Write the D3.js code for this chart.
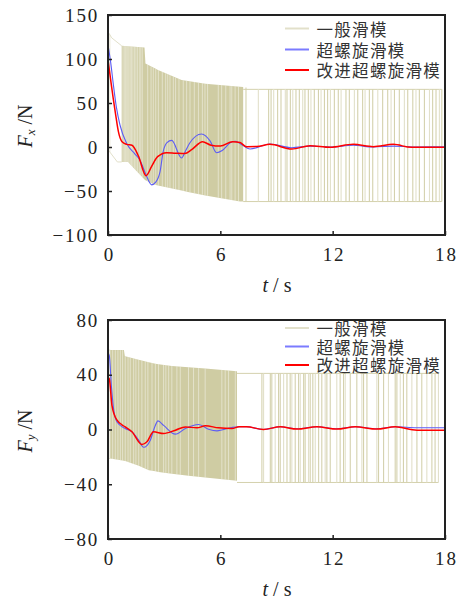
<!DOCTYPE html>
<html><head><meta charset="utf-8">
<script src="https://cdn.jsdelivr.net/npm/d3@7"></script>
<style>
html,body{margin:0;padding:0;background:#fff;}
svg{display:block;}
</style></head>
<body>
<svg id="chart" width="462" height="601"></svg>
<script>
// ---------------- DATA ----------------
const seriesNames = ["一般滑模", "超螺旋滑模", "改进超螺旋滑模"];
const xTicks = [0, 6, 12, 18];
const yTicksFx = [-100, -50, 0, 50, 100, 150];
const yTicksFy = [-80, -40, 0, 40, 80];

// F_x : conventional sliding mode (chattering) envelopes [t, value]
const fxUpper = [[0,131],[0.2,124],[0.73,115],[1.95,113],[2.0,95],[2.67,87.5],[3.93,76],[5.2,72],[7.05,68.5],[8,66],[18,65.5]];
const fxLower = [[0,-3],[0.5,-17],[1.07,-17],[1.98,-37.5],[2.5,-43],[4.27,-51],[5.2,-55],[7.05,-62],[18,-62]];
const fxDense = [0.73, 7.22];
const fxGaps = [0.8,0.87,0.93,1.0,1.06,1.12,1.19,1.26,1.33,1.41,1.49,1.57,1.67,1.75,1.83,2.12,2.3,2.42,2.55,2.69,2.9,3.08,3.19,3.31,3.49,3.61,3.79,4.02,4.2,4.38,4.61,4.83,5.04,5.18,5.32,5.89,6.07,6.29,6.52,6.61,6.79,6.97];
const fxSwitch = [7.37,8.03,8.58,8.71,8.85,9.06,9.24,9.47,9.56,9.74,9.87,10.04,10.22,10.40,10.52,10.70,10.84,11.02,11.24,11.38,11.56,11.73,11.88,12.09,12.30,12.45,12.71,12.89,13.16,13.34,13.60,13.73,13.96,14.14,14.41,14.67,14.94,15.12,15.30,15.56,15.83,16.01,16.28,16.45,16.63,16.90,17.17,17.34,17.52,17.70,17.83];
// F_x : super-twisting (blue) and improved super-twisting (red)
const fxBlue = [[0,116],[0.15,95],[0.28,72],[0.45,45],[0.64,25],[1.0,4],[1.44,-8],[1.71,-15],[2.0,-30],[2.33,-43],[2.55,-40],[2.78,-28],[2.95,-5],[3.15,5],[3.4,7.5],[3.93,-12.5],[4.15,-4],[4.35,4],[5.0,14.8],[5.45,7],[5.8,-6.5],[6.1,-4],[6.55,5],[6.8,6.5],[7.05,4],[7.59,-2.3],[8.65,3.4],[9.81,-0.8],[10.79,1],[11.86,0],[13.1,2],[14.17,0],[15.24,1],[16.3,0],[18,0.2]];
const fxRed = [[0,99],[0.12,80],[0.28,55],[0.4,38],[0.55,18],[0.75,6],[1.0,3],[1.28,2],[1.62,-10],[2.03,-32.6],[2.33,-22],[2.65,-11],[3.13,-6.4],[3.6,-7],[4.1,-7.5],[4.47,-3],[5.05,6],[5.5,2],[6.0,1],[6.65,6],[7.05,5],[7.4,0.4],[7.94,0.5],[8.65,3],[9.81,-2.3],[10.79,1.5],[11.86,-0.4],[13.1,3],[14.17,0.4],[15.24,3],[16.2,-0.4],[18,-0.4]];

// F_y : conventional sliding mode envelopes
const fyUpper = [[0,58],[0.85,58],[0.9,53.5],[2.53,48],[3.41,46.4],[5.19,44.5],[6.97,42.5],[8.2,41],[18,41]];
const fyLower = [[0,-21],[0.92,-23],[1.64,-26.5],[2.18,-29.7],[2.7,-31],[4.3,-33.8],[6.97,-37.5],[8.2,-38.7],[18,-38.7]];
const fyDense = [0.12, 6.89];
const fyGaps = [0.25,0.39,0.53,0.66,0.78,0.92,1.07,1.19,1.37,1.49,1.64,1.81,1.99,2.13,2.35,2.53,2.70,2.97,3.09,3.24,3.41,3.68,3.86,4.3,4.57,4.84,5.19,6.08,6.26,6.44,6.8];
const fySwitch = [8.22,8.31,8.67,8.75,8.93,9.11,9.2,9.38,9.56,9.73,9.82,10.0,10.18,10.27,10.45,10.53,10.71,10.8,10.94,11.07,11.25,11.42,11.6,11.69,11.87,12.22,12.4,12.58,12.67,12.94,13.29,13.56,13.65,13.83,14.36,14.45,14.72,14.98,15.34,15.43,15.61,15.78,15.96,16.23,16.5,16.76,17.03,17.3,17.47,17.65];
const fyBlue = [[0,56],[0.07,54],[0.18,32],[0.3,15],[0.48,5.5],[0.92,0.7],[1.28,-1.7],[1.64,-7.8],[1.9,-13],[2.26,-7.8],[2.5,2],[2.67,6.3],[2.97,3],[3.6,-3.4],[4.13,0.7],[4.84,3.6],[5.37,0.2],[5.82,-1],[6.62,1.5],[7.0,2],[7.4,2],[8.3,0],[9.2,2],[10.09,0.5],[11.16,2],[12.23,0.5],[13.2,2],[14.36,0.5],[15.34,2],[16.5,1.3],[18,1.3]];
const fyRed = [[0,38],[0.07,37],[0.21,17.7],[0.48,6.8],[0.92,1.9],[1.28,-1.7],[1.81,-11],[2.08,-9],[2.43,-1.7],[2.97,-2.9],[3.6,-0.5],[4.13,1.9],[4.75,1.2],[5.2,2.7],[5.9,1.2],[6.62,0.7],[7.0,2],[7.4,2],[8.3,0],[9.2,2],[10.09,0.3],[11.16,2],[12.23,0.3],[13.2,2],[14.36,0.3],[15.34,2],[16.5,-0.5],[18,-0.5]];

// ---------------- DRAW ----------------
const OLIVE = "#cfcca3", OLIVE_S = "#d4d1ad", OLIVE_L = "#e2e0ca", BLUE = "#5c5cf5", RED = "#ff0000";
const svg = d3.select("#chart");

const panels = [
  {left:108, right:445, top:15, bottom:235, dom:[-100,150], yt:yTicksFx, sub:"x",
   up:fxUpper, lo:fxLower, dense:fxDense, gaps:fxGaps, sw:fxSwitch, blue:fxBlue, red:fxRed,
   legY:[30,51,71.5], titleY:126},
  {left:108, right:445, top:320, bottom:539, dom:[-80,80], yt:yTicksFy, sub:"y",
   up:fyUpper, lo:fyLower, dense:fyDense, gaps:fyGaps, sw:fySwitch, blue:fyBlue, red:fyRed,
   legY:[329.5,348,366.5], titleY:431}
];

panels.forEach((p, i) => {
  const x = d3.scaleLinear().domain([0,18]).range([p.left, p.right]);
  const y = d3.scaleLinear().domain(p.dom).range([p.bottom, p.top]);
  const upS = d3.scaleLinear().domain(p.up.map(d=>d[0])).range(p.up.map(d=>d[1]));
  const loS = d3.scaleLinear().domain(p.lo.map(d=>d[0])).range(p.lo.map(d=>d[1]));

  const clipId = "clip" + i;
  svg.append("clipPath").attr("id", clipId).append("rect")
    .attr("x", p.left).attr("y", p.top).attr("width", p.right - p.left).attr("height", p.bottom - p.top);
  const g = svg.append("g").attr("clip-path", `url(#${clipId})`);

  // faint envelope lines (before dense start)
  const env = d3.line().x(d=>x(d[0])).y(d=>y(d[1]));
  const preU = p.up.filter(d=>d[0] < p.dense[0]).concat([[p.dense[0], upS(p.dense[0])]]);
  const preL = p.lo.filter(d=>d[0] < p.dense[0]).concat([[p.dense[0], loS(p.dense[0])]]);
  g.append("path").attr("d", env(preU)).attr("fill","none").attr("stroke",OLIVE_L).attr("stroke-width",1);
  g.append("path").attr("d", env(preL)).attr("fill","none").attr("stroke",OLIVE_L).attr("stroke-width",1);
  g.append("line").attr("x1", x(0.1)).attr("x2", x(0.1)).attr("y1", y(upS(0.1))).attr("y2", y(loS(0.1)))
    .attr("stroke", OLIVE_L).attr("stroke-width", 0.8);

  // dense chattering band
  const ts = Array.from(new Set([p.dense[0], ...p.up.map(d=>d[0]), ...p.lo.map(d=>d[0]), p.dense[1]]))
    .filter(t => t >= p.dense[0] && t <= p.dense[1]).sort((a,b)=>a-b);
  const area = d3.area().x(t=>x(t)).y0(t=>y(loS(t))).y1(t=>y(upS(t)));
  g.append("path").attr("d", area(ts)).attr("fill", OLIVE);

  // white gaps in the dense band
  g.selectAll(null).data(p.gaps).join("line")
    .attr("x1", t=>x(t)).attr("x2", t=>x(t))
    .attr("y1", t=>y(upS(t))).attr("y2", t=>y(loS(t)))
    .attr("stroke", "#fff").attr("stroke-opacity", 0.55).attr("stroke-width", 0.8);

  // sparse switching lines and held levels
  const last = p.sw[p.sw.length-1];
  g.append("line").attr("x1", x(p.dense[1])).attr("x2", x(last))
    .attr("y1", y(upS(last))).attr("y2", y(upS(last))).attr("stroke", OLIVE_S).attr("stroke-width", 1);
  g.append("line").attr("x1", x(p.dense[1])).attr("x2", x(last))
    .attr("y1", y(loS(last))).attr("y2", y(loS(last))).attr("stroke", OLIVE_S).attr("stroke-width", 1);
  g.selectAll(null).data(p.sw).join("line")
    .attr("x1", t=>x(t)).attr("x2", t=>x(t))
    .attr("y1", t=>y(upS(t))).attr("y2", t=>y(loS(t)))
    .attr("stroke", (t,k)=> k%3===1 ? OLIVE_L : OLIVE_S).attr("stroke-width", 1.1);

  // smooth curves
  const line = d3.line().x(d=>x(d[0])).y(d=>y(d[1])).curve(d3.curveMonotoneX);
  g.append("path").attr("d", line(p.blue)).attr("fill","none").attr("stroke", BLUE).attr("stroke-width", 1.1);
  g.append("path").attr("d", line(p.red)).attr("fill","none").attr("stroke", RED).attr("stroke-width", 1.5);

  // axes (inward ticks)
  const fontTick = "Liberation Serif";
  const xAxis = svg.append("g").attr("transform", `translate(0,${p.bottom})`)
    .call(d3.axisBottom(x).tickValues(xTicks).tickSize(-4).tickPadding(13).tickFormat(d3.format("d")));
  const yAxis = svg.append("g").attr("transform", `translate(${p.left},0)`)
    .call(d3.axisLeft(y).tickValues(p.yt).tickSize(-4).tickPadding(9).tickFormat(d3.format("d")));
  [xAxis, yAxis].forEach(a => {
    a.select(".domain").remove();
    a.selectAll("line").attr("stroke", "#222").attr("stroke-width", 1.5);
    a.selectAll("text").attr("font-family", fontTick).attr("font-size", 19)
      .attr("letter-spacing", 1.8).attr("fill", "#222");
  });
  xAxis.selectAll("text").attr("dx", 0.9);

  // frame
  svg.append("rect").attr("x", p.left).attr("y", p.top)
    .attr("width", p.right - p.left).attr("height", p.bottom - p.top)
    .attr("fill", "none").attr("stroke", "#222").attr("stroke-width", 2);

  // x title
  const xt = svg.append("text").attr("x", 277).attr("y", p.bottom + 57)
    .attr("text-anchor", "middle").attr("font-family", fontTick).attr("font-size", 20).attr("fill", "#222");
  xt.append("tspan").attr("font-style", "italic").text("t");
  xt.append("tspan").text(" / s");

  // y title
  const yt = svg.append("text").attr("transform", `translate(32,${p.titleY}) rotate(-90)`)
    .attr("text-anchor", "middle").attr("font-family", fontTick).attr("font-size", 20).attr("fill", "#222");
  yt.append("tspan").attr("font-style", "italic").text("F");
  yt.append("tspan").attr("font-style", "italic").attr("font-size", 13).attr("dy", 3).text(p.sub);
  yt.append("tspan").attr("dy", -3).text(" /N");

  // legend
  const legColors = [OLIVE_L, "#7b7bff", RED];
  const leg = svg.append("g");
  seriesNames.forEach((name, k) => {
    leg.append("line").attr("x1", 285).attr("x2", 309)
      .attr("y1", p.legY[k] - 1.5).attr("y2", p.legY[k] - 1.5)
      .attr("stroke", legColors[k]).attr("stroke-width", 2);
    leg.append("text").attr("x", 316.5).attr("y", p.legY[k]).attr("dy", "0.36em")
      .attr("font-family", "'Liberation Serif', 'Noto Sans CJK SC'").attr("font-size", 16.5)
      .attr("letter-spacing", 1.3).attr("fill", "#333").text(name);
  });
});
</script>
</body></html>
